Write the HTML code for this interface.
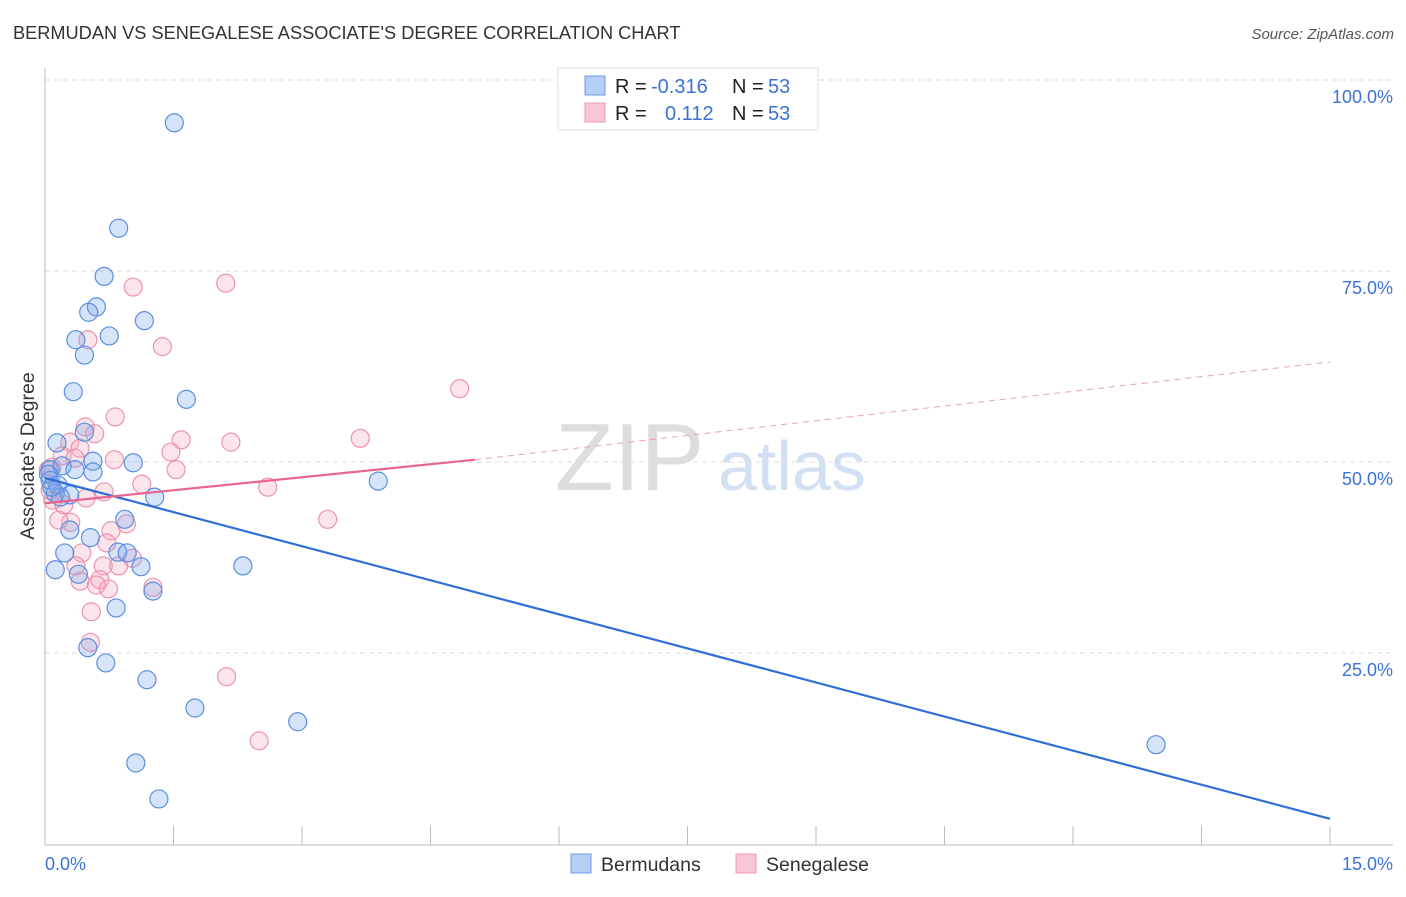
<!DOCTYPE html>
<html><head><meta charset="utf-8"><style>
body{margin:0;background:#fff;font-family:"Liberation Sans",sans-serif;}
svg text{font-family:"Liberation Sans",sans-serif;}
</style></head><body>
<svg id="chart" width="1406" height="892" xmlns="http://www.w3.org/2000/svg">
<text x="13" y="39" font-size="18.2" fill="#333">BERMUDAN VS SENEGALESE ASSOCIATE'S DEGREE CORRELATION CHART</text>
<text x="1394" y="39" font-size="15" fill="#555" text-anchor="end" font-style="italic">Source: ZipAtlas.com</text>
<g>
<text x="555" y="490" font-size="96" fill="#ddd" font-family="Liberation Serif,serif">ZIP</text>
<text x="718" y="490" font-size="70" fill="#d3e0f3">atlas</text>
</g>
<g id="grid"></g>
<g id="axes"></g>
<g id="marks"></g>
<g>
<rect x="558" y="68" width="260" height="62" fill="#fff" stroke="#ddd"/>
<rect x="585" y="76" width="20" height="19" fill="#b5cff5" stroke="#6c9be6"/>
<rect x="585" y="103" width="20" height="19" fill="#f9c6d5" stroke="#ee9ab4"/>
<text x="615" y="93" font-size="20" fill="#222">R =</text>
<text x="651" y="93" font-size="20" fill="#3b73d4">-0.316</text>
<text x="732" y="93" font-size="20" fill="#222">N =</text>
<text x="768" y="93" font-size="20" fill="#3b73d4">53</text>
<text x="615" y="120" font-size="20" fill="#222">R =</text>
<text x="665" y="120" font-size="20" fill="#3b73d4">0.112</text>
<text x="732" y="120" font-size="20" fill="#222">N =</text>
<text x="768" y="120" font-size="20" fill="#3b73d4">53</text>
</g>
<g>
<rect x="571" y="854" width="20" height="19" fill="#b5cff5" stroke="#6c9be6"/>
<text x="601" y="871" font-size="19.5" fill="#333">Bermudans</text>
<rect x="736" y="854" width="20" height="19" fill="#f9c6d5" stroke="#ee9ab4"/>
<text x="766" y="871" font-size="19.5" fill="#333">Senegalese</text>
</g>
</svg>
<script>
const bermX=[1.51,0.86,0.69,0.60,0.51,1.16,0.75,0.36,0.46,0.33,1.65,0.46,0.14,1.03,0.56,0.56,3.89,0.06,0.20,0.35,0.06,0.15,0.12,0.29,1.28,0.93,0.53,0.29,0.23,0.85,0.96,1.12,2.31,0.12,0.39,1.26,0.83,0.50,0.71,1.19,1.75,2.95,12.97,1.06,1.33,0.18,0.04,0.08];
const bermY=[94.4,80.6,74.3,70.3,69.6,68.5,66.5,66.0,64.0,59.2,58.2,53.9,52.5,49.9,50.1,48.7,47.5,49.0,49.5,49.0,47.6,47.0,45.9,45.7,45.4,42.5,40.1,41.1,38.1,38.2,38.1,36.3,36.4,35.9,35.3,33.1,30.9,25.7,23.7,21.5,17.8,16.0,13.0,10.6,5.9,45.4,48.4,46.7];
const senX=[2.11,1.03,0.50,1.37,4.84,0.82,3.68,0.47,0.58,1.59,2.17,0.29,0.41,1.47,0.81,0.20,0.35,1.53,0.08,1.13,2.60,0.69,0.48,0.09,0.22,3.30,0.30,0.16,0.95,0.77,0.72,0.43,1.02,0.36,0.68,0.86,0.64,0.41,0.60,0.74,1.26,0.54,0.53,2.12,2.50,0.04,0.06];
const senY=[73.4,72.9,66.0,65.1,59.6,55.9,53.1,54.6,53.7,52.9,52.6,52.6,51.8,51.3,50.3,50.8,50.5,49.0,49.3,47.1,46.7,46.1,45.3,45.0,44.4,42.5,42.1,42.4,41.9,41.0,39.4,38.1,37.4,36.4,36.4,36.4,34.6,34.4,33.9,33.4,33.6,30.4,26.4,21.9,13.5,49.0,46.3];
const bermTrend=[[0,47.9],[15,3.3]];
const senTrendSolid=[[0,44.6],[5.02,50.3]];
const senTrendDash=[[5.02,50.3],[15,63.1]];
const yTicks=[100,75,50,25];
const yTickLabels=["100.0%","75.0%","50.0%","25.0%"];
const xTicks=[0,1.5,3,4.5,6,7.5,9,10.5,12,13.5,15];

const NS="http://www.w3.org/2000/svg";
const sx=v=>45+v*(1285/15);
const sy=v=>844-v*7.64;
function mk(tag,attrs,parent){const e=document.createElementNS(NS,tag);for(const k in attrs)e.setAttribute(k,attrs[k]);document.getElementById(parent).appendChild(e);return e;}
yTicks.forEach((t,i)=>{
  const l=mk('line',{x1:45,x2:1393,y1:sy(t),y2:sy(t),stroke:'#ddd','stroke-dasharray':'5,4'},'grid');
  
  
  const tx=mk('text',{x:1393,y:sy(t)+23,'font-size':18,fill:'#3b73d4','text-anchor':'end'},'axes');
  tx.textContent=yTickLabels[i];
  
  
});
const ax=mk('line',{x1:45,x2:45,y1:68,y2:845,stroke:'#bbb'},'axes');


const xa=mk('line',{x1:45,x2:1393,y1:845,y2:845,stroke:'#bbb'},'axes');


xTicks.forEach(t=>{
  const l=mk('line',{x1:sx(t),x2:sx(t),y1:826,y2:845,stroke:'#bbb'},'axes');
  
  
});
const x0=mk('text',{x:45,y:870,'font-size':18,fill:'#3b73d4'},'axes');x0.textContent='0.0%';


const x1=mk('text',{x:1393,y:870,'font-size':18,fill:'#3b73d4','text-anchor':'end'},'axes');x1.textContent='15.0%';


const yt=mk('text',{x:34,y:456,'font-size':19.5,fill:'#333','text-anchor':'middle',transform:'rotate(-90 34 456)'},'axes');yt.textContent="Associate's Degree";



senX.forEach((x,i)=>{
  const c=mk('circle',{cx:sx(x),cy:sy(senY[i]),r:9,fill:'rgba(245,165,190,0.3)',stroke:'#eb94b0','stroke-width':1.2},'marks');
  
  
});
bermX.forEach((x,i)=>{
  const c=mk('circle',{cx:sx(x),cy:sy(bermY[i]),r:9,fill:'rgba(120,165,235,0.3)',stroke:'#5a8fe0','stroke-width':1.2},'marks');
  
  
});
const bl=mk('line',{x1:sx(bermTrend[0][0]),y1:sy(bermTrend[0][1]),x2:sx(bermTrend[1][0]),y2:sy(bermTrend[1][1]),stroke:'#2f6fd6','stroke-width':2.2},'marks');


const pl=mk('line',{x1:sx(senTrendSolid[0][0]),y1:sy(senTrendSolid[0][1]),x2:sx(senTrendSolid[1][0]),y2:sy(senTrendSolid[1][1]),stroke:'#e8658f','stroke-width':2.2},'marks');


const pd=mk('line',{x1:sx(senTrendDash[0][0]),y1:sy(senTrendDash[0][1]),x2:sx(senTrendDash[1][0]),y2:sy(senTrendDash[1][1]),stroke:'#e8a0b8','stroke-width':1,'stroke-dasharray':'6,5'},'marks');


</script>
</body></html>
